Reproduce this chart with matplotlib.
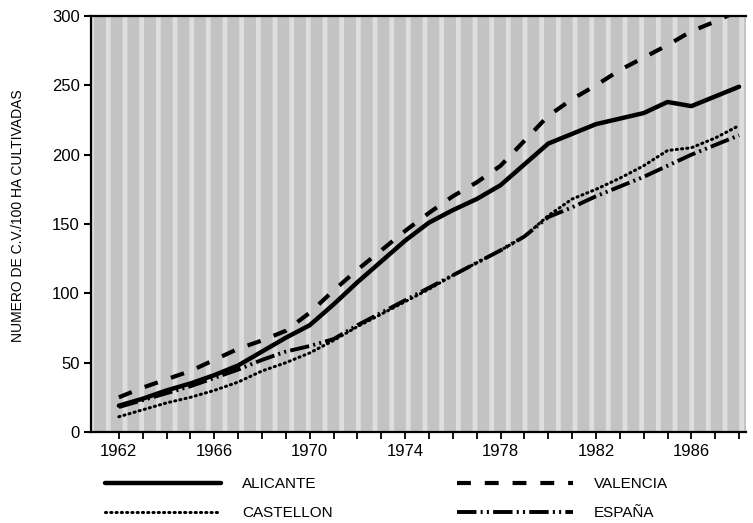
import matplotlib.pyplot as plt
from matplotlib.patches import Rectangle

plt.rcParams['font.family'] = ['Liberation Sans', 'DejaVu Sans']
plt.rcParams['lines.scale_dashes'] = False

# values (C.V. per 100 ha cultivated)
years = list(range(1962, 1989))
alicante = [19, 24, 30, 35, 41, 48, 58, 68, 77, 92, 108, 123, 138, 151, 160, 168,
            178, 193, 208, 215, 222, 226, 230, 238, 235, 242, 249]
valencia = [25, 32, 38, 44, 52, 60, 66, 73, 86, 102, 117, 131, 145, 158, 170, 180,
            192, 210, 228, 240, 250, 261, 270, 279, 289, 296, 304]
castellon = [11, 16, 21, 25, 30, 36, 44, 50, 57, 66, 76, 85, 94, 103, 113, 122,
             131, 141, 156, 168, 175, 183, 192, 203, 205, 212, 221]
espana = [18, 23, 28, 33, 39, 45, 52, 58, 62, 67, 77, 86, 95, 104, 113, 122,
          131, 141, 155, 162, 170, 177, 184, 192, 200, 207, 214]

yticks = [0, 50, 100, 150, 200, 250, 300]
xlabels = [1962, 1966, 1970, 1974, 1978, 1982, 1986]

fig = plt.figure(figsize=(7.53, 5.23), dpi=100)
ax = fig.add_axes([0.1208, 0.174, 0.8699, 0.7954])

# halftone-like shaded background
ax.patch.set_facecolor('#c3c3c3')
plt.rcParams['hatch.linewidth'] = 3.5
bg = Rectangle((0, 0), 1, 1, transform=ax.transAxes, facecolor='none',
               edgecolor='#dedede', linewidth=0, hatch='|', zorder=0)
ax.add_patch(bg)

ax.plot(years, alicante, color='black', lw=3.2, solid_capstyle='round',
        label='ALICANTE')
ax.plot(years, castellon, color='black', lw=2.2, dashes=(0.8, 3.0),
        dash_capstyle='round', label='CASTELLON')
ax.plot(years, valencia, color='black', lw=3, dashes=(10, 10),
        label='VALENCIA')
ax.plot(years, espana, color='black', lw=2.8, dashes=(14, 3, 1.5, 3, 1.5, 3),
        label='ESPAÑA')

ax.set_xlim(1960.83, 1988.29)
ax.set_ylim(0, 300)
ax.set_yticks(yticks)
ax.set_xticks(years, minor=True)
ax.set_xticks(xlabels)
ax.set_xticklabels([str(y) for y in xlabels])

ax.spines['right'].set_visible(False)
for s in ['left', 'top', 'bottom']:
    ax.spines[s].set_linewidth(1.6)

ax.tick_params(axis='y', direction='out', length=5, width=1.5, pad=3,
               labelsize=12)
ax.tick_params(axis='x', which='both', direction='out', length=5, width=1.3,
               pad=4, labelsize=12)
ax.tick_params(axis='x', which='minor', length=5)

ax.set_ylabel('NUMERO DE C.V./100 HA CULTIVADAS', fontsize=10)
ax.yaxis.set_label_coords(-0.100, 0.52)

fig.legend(loc='upper left', bbox_to_anchor=(0.139, 0.087), ncol=2,
           frameon=False, fontsize=11, handlelength=7.6, handletextpad=1.4,
           columnspacing=8.1, labelspacing=0.95, borderpad=0,
           borderaxespad=0)

fig.savefig('out.png', dpi=100)
